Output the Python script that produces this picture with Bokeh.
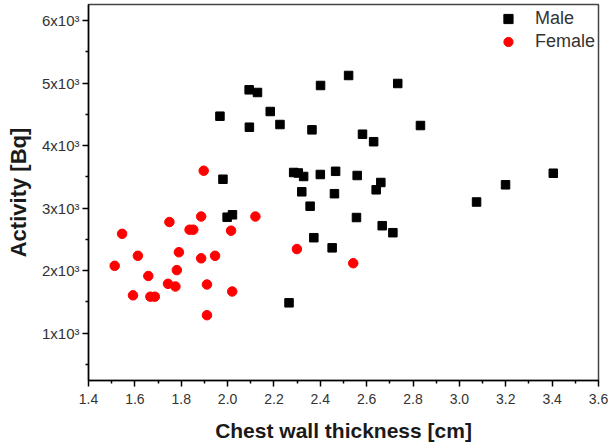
from bokeh.plotting import figure
from bokeh.models import Range1d, FixedTicker, CustomJSTickFormatter
from bokeh.embed import file_html
from bokeh.resources import INLINE

# Chest wall thickness [cm] and measured activity [Bq]
male_thickness = [1.967, 2.093, 2.129, 2.094, 2.184, 2.226, 2.364, 2.401, 1.980,
                  2.285, 2.305, 2.328, 2.320, 2.356, 2.400, 1.998, 2.021, 2.522,
                  2.734, 2.582, 2.630, 2.832, 2.466, 2.559, 2.661, 2.641, 2.461,
                  2.556, 2.667, 2.713, 2.372, 2.451, 2.265, 3.074, 3.199, 3.405]
male_activity = [4470, 4892, 4849, 4294, 4545, 4337, 4252, 4961, 3462,
                 3570, 3562, 3506, 3261, 3031, 3538, 2855, 2893, 5121,
                 4993, 4182, 4062, 4321, 3589, 3522, 3410, 3293, 3231,
                 2850, 2719, 2607, 2527, 2365, 1486, 3098, 3373, 3558]

female_thickness = [1.897, 1.749, 1.886, 2.120, 1.545, 1.836, 1.852, 2.015, 1.790,
                    1.613, 1.886, 1.946, 1.513, 1.781, 1.658, 1.743, 1.775, 1.911,
                    1.592, 1.667, 1.686, 2.020, 1.911, 2.299, 2.542]
female_activity = [3598, 2778, 2866, 2866, 2589, 2655, 2655, 2639, 2295,
                   2238, 2198, 2238, 2078, 2009, 1915, 1790, 1747, 1779,
                   1606, 1584, 1584, 1667, 1288, 2346, 2119]

x_ticks = [1.4, 1.6, 1.8, 2.0, 2.2, 2.4, 2.6, 2.8, 3.0, 3.2, 3.4, 3.6]
x_minor = [1.5, 1.7, 1.9, 2.1, 2.3, 2.5, 2.7, 2.9, 3.1, 3.3, 3.5]
y_ticks = [1000, 2000, 3000, 4000, 5000, 6000]
y_minor = [500, 1500, 2500, 3500, 4500, 5500]

FONT = "Liberation Sans"

p = figure(width=608, height=444, output_backend="svg", toolbar_location=None,
           x_range=Range1d(1.4, 3.6), y_range=Range1d(244, 6256),
           min_border_left=88, min_border_right=10, min_border_top=4,
           min_border_bottom=64)

p.xgrid.visible = False
p.ygrid.visible = False
p.outline_line_color = "#444444"
p.outline_line_width = 1.5

p.scatter(male_thickness, male_activity, marker="square", size=8.5,
          color="black", legend_label="Male")
p.scatter(female_thickness, female_activity, marker="circle", size=9.5,
          color="red", legend_label="Female")

for ax in (p.xaxis[0], p.yaxis[0]):
    ax.axis_line_color = "black"
    ax.axis_line_width = 1.5
    ax.major_tick_line_color = "black"
    ax.major_tick_line_width = 1.5
    ax.minor_tick_line_color = "black"
    ax.minor_tick_line_width = 1.5
    ax.major_tick_in = 0
    ax.major_tick_out = 6
    ax.minor_tick_in = 0
    ax.minor_tick_out = 3
    ax.major_label_text_font = FONT
    ax.major_label_text_color = "#333333"
    ax.axis_label_text_font = FONT
    ax.axis_label_text_font_style = "bold"
    ax.axis_label_text_color = "#1a1a1a"

p.xaxis.ticker = FixedTicker(ticks=x_ticks, minor_ticks=x_minor)
p.xaxis.formatter = CustomJSTickFormatter(code="return tick.toFixed(1);")
p.xaxis.major_label_text_font_size = "14px"
p.xaxis.axis_label = "Chest wall thickness [cm]"
p.xaxis.axis_label_text_font_size = "21px"
p.xaxis.major_label_standoff = 7
p.xaxis.axis_label_standoff = 12

p.yaxis.ticker = FixedTicker(ticks=y_ticks, minor_ticks=y_minor)
p.yaxis.formatter = CustomJSTickFormatter(
    code="return (tick / 1000).toFixed(0) + 'x10\\u00b3';")
p.yaxis.major_label_text_font_size = "15px"
p.yaxis.axis_label = "Activity [Bq]"
p.yaxis.axis_label_text_font_size = "22px"
p.yaxis.major_label_standoff = 3
p.yaxis.axis_label_standoff = 8

lg = p.legend[0]
lg.location = "top_right"
lg.border_line_color = None
lg.background_fill_alpha = 0
lg.margin = 3
lg.padding = 4
lg.glyph_width = 28
lg.glyph_height = 23
lg.spacing = 0
lg.label_height = 20
lg.label_standoff = 13
lg.label_text_font = FONT
lg.label_text_font_size = "18px"
lg.label_text_color = "#333333"

open("out.html", "w").write(file_html(p, INLINE))
